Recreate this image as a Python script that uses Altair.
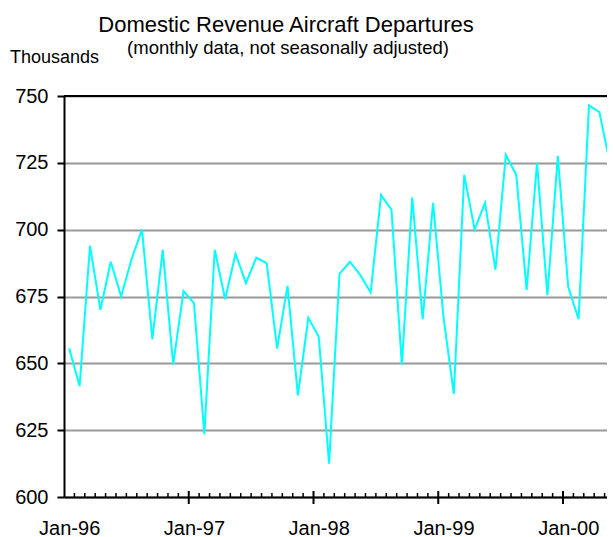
import altair as alt
import pandas as pd

# Monthly departures (thousands), Jan-96 .. May-00
values = [
    655.6, 641.5, 694.0, 670.0, 688.0, 675.0, 689.0, 700.0, 659.0, 692.5, 649.5, 677.0,   # 1996
    672.5, 623.5, 692.5, 674.0, 691.0, 680.0, 689.5, 687.5, 655.5, 679.0, 638.0, 667.0,   # 1997
    660.0, 612.5, 683.5, 688.0, 683.0, 676.5, 713.0, 707.5, 649.5, 712.0, 666.5, 710.0,   # 1998
    667.5, 638.5, 720.5, 700.0, 710.0, 685.0, 728.0, 720.5, 677.5, 725.0, 675.5, 727.5,   # 1999
    678.5, 666.5, 746.5, 744.0, 725.0,                                                     # 2000
]
tick_labels = ["Jan-96", "Jan-97", "Jan-98", "Jan-99", "Jan-00"]
y_ticks = [600, 625, 650, 675, 700, 725, 750]

title = "Domestic Revenue Aircraft Departures"
subtitle = "(monthly data, not seasonally adjusted)"
unit = "Thousands"

FONT = "Liberation Sans"
W, H = 543, 401
MONTH_PX = 10.396  # pixel width of one month in the reference

df = pd.DataFrame({"idx": list(range(len(values))), "value": values})
n = len(values)
minor = pd.DataFrame({"idx": [k - 0.5 for k in range(1, n + 1) if k % 12 != 0]})
major = pd.DataFrame({"idx": [k - 0.5 for k in range(12, n, 12)]})

xscale = alt.Scale(domain=[-0.5, -0.5 + W / MONTH_PX], nice=False, zero=False)
yscale = alt.Scale(domain=[600, 750], nice=False, zero=False)

label_expr = "[" + ",".join("'%s'" % t for t in tick_labels) + "][datum.value / 12]"

xaxis = alt.Axis(values=[12 * i for i in range(len(tick_labels))],
                 labelExpr=label_expr, tickSize=0, grid=False,
                 domainColor="black", domainWidth=2,
                 labelFont=FONT, labelFontSize=20, labelColor="black",
                 labelPadding=21, title=None)
yaxis = alt.Axis(values=y_ticks, grid=True, gridColor="#999999", gridWidth=2,
                 tickColor="black", tickSize=7, tickWidth=2,
                 domainColor="black", domainWidth=2,
                 labelFont=FONT, labelFontSize=20, labelColor="black",
                 labelPadding=9, title=None)

line = alt.Chart(df).mark_line(color="#00FFFF", strokeWidth=2, clip=True).encode(
    x=alt.X("idx:Q", scale=xscale, axis=xaxis, title=None),
    y=alt.Y("value:Q", scale=yscale, axis=yaxis, title=None),
)

top = alt.Chart(pd.DataFrame({"value": [750]})).mark_rule(color="black", strokeWidth=2).encode(
    y=alt.Y("value:Q", scale=yscale, title=None)
)

minor_ticks = alt.Chart(minor).mark_rule(color="black", strokeWidth=1.5, clip=True).encode(
    x=alt.X("idx:Q", scale=xscale, title=None),
    y=alt.value(H - 4), y2=alt.value(H + 1),
)
major_ticks = alt.Chart(major).mark_rule(color="black", strokeWidth=2).encode(
    x=alt.X("idx:Q", scale=xscale, title=None),
    y=alt.value(H - 6), y2=alt.value(H + 7),
)

t1 = alt.Chart(pd.DataFrame({"t": [title]})).mark_text(
    font=FONT, fontSize=22, color="black", align="center", baseline="alphabetic"
).encode(text="t:N", x=alt.value(222), y=alt.value(-64))
t2 = alt.Chart(pd.DataFrame({"t": [subtitle]})).mark_text(
    font=FONT, fontSize=18.5, color="black", align="center", baseline="alphabetic"
).encode(text="t:N", x=alt.value(224), y=alt.value(-42))
t3 = alt.Chart(pd.DataFrame({"t": [unit]})).mark_text(
    font=FONT, fontSize=18, color="black", align="left", baseline="alphabetic"
).encode(text="t:N", x=alt.value(-54), y=alt.value(-33))

chart = alt.layer(line, top, minor_ticks, major_ticks, t1, t2, t3).properties(
    width=W, height=H,
    autosize=alt.AutoSizeParams(type="none"),
    padding={"left": 56, "top": 88, "right": 0, "bottom": 40},
    background="white",
).configure_view(stroke=None)

chart.save("out.html", embed_options={"renderer": "svg", "actions": False})
